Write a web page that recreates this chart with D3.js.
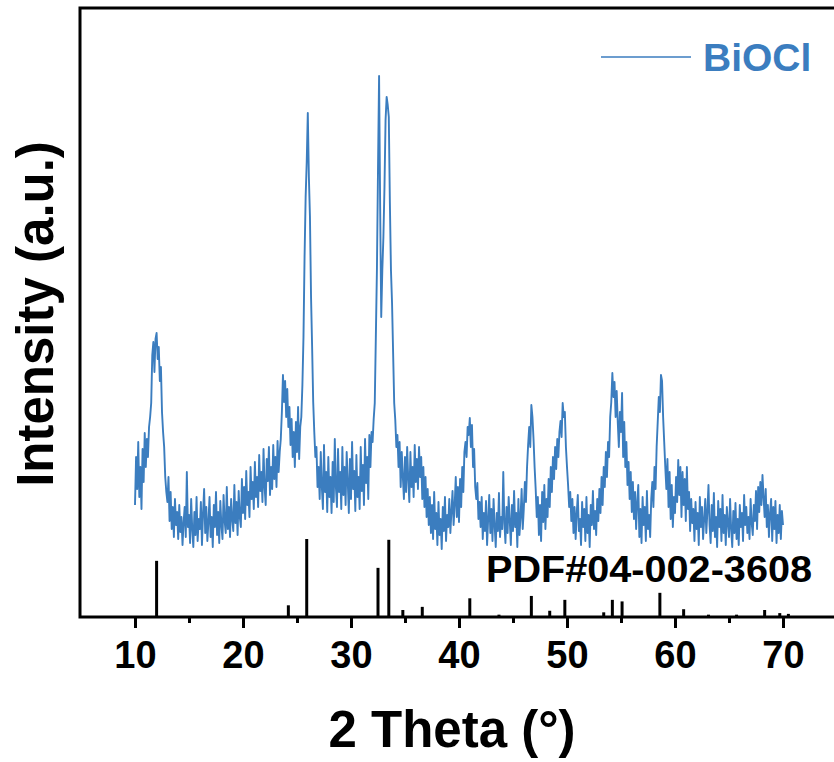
<!DOCTYPE html>
<html>
<head>
<meta charset="utf-8">
<script src="https://cdn.jsdelivr.net/npm/d3@7"></script>
<style>
  body { margin: 0; background: #fff; }
  svg { display: block; font-family: "Liberation Sans", Arial, sans-serif; font-weight: bold; }
</style>
</head>
<body>
<svg width="834" height="762"></svg>
<script>
// 2θ sampling grid of the measured pattern
const THETA_START = 10, THETA_STEP = 0.1;

// Measured BiOCl intensities (a.u.), one row per degree, 10.0° .. 70.0°
const intensity = [
  112, 160, 128, 175, 120, 150, 108, 168, 135, 184,
  150, 178, 160, 190, 200, 214, 262, 275, 245, 278,
  284, 258, 270, 236, 250, 205, 185, 170, 140, 125,
  115, 140, 96, 125, 88, 110, 80, 118, 92, 105,
  78, 112, 85, 100, 72, 95, 110, 80, 145, 90,
  102, 74, 118, 88, 70, 105, 82, 120, 76, 98,
  88, 115, 72, 104, 128, 84, 110, 76, 95, 120,
  80, 100, 70, 112, 90, 125, 82, 105, 74, 116,
  92, 78, 122, 96, 84, 130, 88, 110, 80, 118,
  98, 86, 132, 94, 115, 82, 126, 100, 90, 138,
  104, 130, 98, 146, 112, 125, 100, 150, 118, 135,
  108, 155, 120, 140, 110, 162, 126, 145, 115, 168,
  130, 112, 158, 136, 170, 122, 150, 128, 172, 138,
  160, 130, 176, 145, 165, 178, 205, 242, 215, 236,
  200, 228, 190, 210, 172, 198, 160, 185, 150, 195,
  165, 210, 158, 190, 200, 232, 280, 360, 420, 455,
  504, 440, 400, 320, 270, 215, 185, 160, 170, 130,
  150, 118, 165, 130, 108, 172, 125, 145, 105, 160,
  120, 140, 104, 155, 115, 178, 130, 110, 168, 125,
  145, 108, 170, 122, 150, 112, 165, 135, 104, 158,
  118, 175, 128, 146, 106, 162, 120, 140, 108, 170,
  126, 152, 112, 178, 134, 160, 118, 182, 150, 185,
  175, 198, 214, 280, 347, 447, 541, 410, 300, 347,
  380, 430, 497, 520, 512, 500, 414, 347, 314, 264,
  214, 197, 170, 182, 150, 175, 130, 165, 140, 118,
  160, 125, 170, 138, 115, 165, 130, 150, 120, 172,
  135, 158, 128, 170, 140, 160, 118, 150, 110, 140,
  100, 128, 92, 120, 84, 112, 78, 125, 88, 104,
  72, 115, 82, 98, 68, 110, 86, 120, 76, 102,
  90, 118, 84, 106, 126, 92, 112, 140, 100, 130,
  95, 138, 110, 150, 125, 165, 175, 160, 190, 182,
  199, 170, 192, 150, 168, 130, 118, 134, 98, 115,
  90, 120, 78, 104, 86, 116, 72, 98, 122, 84,
  108, 76, 118, 92, 70, 104, 86, 124, 80, 100,
  88, 145, 94, 74, 110, 84, 120, 96, 72, 112,
  86, 126, 90, 104, 70, 118, 82, 100, 128, 88,
  108, 135, 115, 150, 172, 190, 170, 212, 200, 178,
  150, 128, 100, 120, 82, 112, 76, 125, 95, 132,
  88, 118, 100, 138, 110, 150, 125, 160, 138, 170,
  148, 178, 160, 185, 196, 180, 214, 200, 205, 170,
  150, 132, 110, 125, 96, 118, 84, 110, 78, 104,
  122, 86, 98, 72, 115, 90, 108, 76, 120, 84,
  102, 70, 112, 92, 126, 88, 106, 82, 118, 96,
  128, 104, 140, 112, 150, 130, 165, 140, 175, 160,
  200, 215, 244, 220, 235, 200, 226, 195, 170, 205,
  185, 224, 160, 195, 150, 175, 132, 155, 118, 145,
  105, 135, 98, 125, 88, 115, 132, 80, 108, 74,
  120, 92, 110, 76, 126, 88, 102, 80, 118, 135,
  110, 150, 128, 170, 195, 220, 205, 242, 236, 200,
  175, 150, 128, 158, 110, 145, 98, 132, 90, 120,
  104, 140, 115, 157, 122, 150, 100, 145, 112, 138,
  96, 150, 108, 125, 86, 118, 94, 108, 76, 115,
  88, 104, 72, 120, 90, 110, 78, 98, 118, 84,
  106, 132, 92, 74, 112, 86, 124, 80, 100, 70,
  116, 90, 108, 76, 122, 84, 102, 72, 110, 94,
  80, 118, 88, 70, 106, 84, 114, 78, 98, 72,
  112, 90, 104, 76, 122, 92, 110, 84, 100, 78,
  118, 94, 82, 112, 96, 126, 88, 130, 105, 135,
  112, 142, 120, 100, 128, 90, 112, 80, 104, 118,
  76, 110, 88, 116, 74, 102, 84, 112, 78, 106,
  92
];

// Reference card PDF#04-002-3608: positions (2θ) and relative intensities
const stickTheta =     [12.0, 24.2, 25.9, 32.5, 33.5, 34.8, 36.6, 41.0, 43.7, 46.7, 48.4, 49.8, 53.4, 54.2, 55.1, 58.6, 60.8, 63.1, 65.7, 68.3, 69.7, 70.5];
const stickIntensity = [72,   15,   100,  63,   99,   9,    13,   24,   3,    27,   8,    22,   6,    22,   20,   31,   10,   3,    3,    9,    5,    4];

const xMajorTicks = [10, 20, 30, 40, 50, 60, 70];
const xMinorTicks = [15, 25, 35, 45, 55, 65];
const seriesName = "BiOCl";
const cardName = "PDF#04-002-3608";

const
  BLUE = "#3b7dbf",
  MARGIN = {left: 81, top: 8, bottom: 617, right: 837}
;

const svg = d3.select("svg");

const x = d3.scaleLinear().domain([5, 75]).range([MARGIN.left, MARGIN.right]);
const y = d3.scaleLinear().domain([0, 609]).range([MARGIN.bottom, MARGIN.top]);
const yStick = d3.scaleLinear().domain([0, 100]).range([MARGIN.bottom, MARGIN.bottom - 78]);

const points = intensity.map((v, i) => [THETA_START + i * THETA_STEP, v]);

// Measured pattern
svg.append("path")
  .datum(points)
  .attr("fill", "none")
  .attr("stroke", BLUE)
  .attr("stroke-width", 1.9)
  .attr("stroke-linejoin", "round")
  .attr("d", d3.line().x(d => x(d[0])).y(d => y(d[1])));

// Reference sticks
svg.append("g")
  .selectAll("line")
  .data(stickTheta.map((t, i) => [t, stickIntensity[i]]))
  .enter().append("line")
    .attr("x1", d => x(d[0]))
    .attr("x2", d => x(d[0]))
    .attr("y1", yStick(0))
    .attr("y2", d => yStick(d[1]))
    .attr("stroke", "#000")
    .attr("stroke-width", 3);

// Frame (right side falls outside the picture)
svg.append("rect")
  .attr("x", MARGIN.left - 1)
  .attr("y", MARGIN.top)
  .attr("width", MARGIN.right - MARGIN.left + 1)
  .attr("height", MARGIN.bottom - MARGIN.top)
  .attr("fill", "none")
  .attr("stroke", "#000")
  .attr("stroke-width", 3);

// Bottom axis: major and minor ticks
const axisMajor = svg.append("g")
  .attr("transform", `translate(0,${MARGIN.bottom})`)
  .call(d3.axisBottom(x).tickValues(xMajorTicks).tickSize(11).tickSizeOuter(0));
axisMajor.select(".domain").remove();
axisMajor.selectAll("line").attr("stroke-width", 3);
axisMajor.selectAll("text")
  .attr("y", 51)
  .attr("dy", null)
  .attr("fill", "#000")
  .style("font-size", "38px")
  .style("font-family", "'Liberation Sans', Arial, sans-serif")
  .style("font-weight", "bold");

const axisMinor = svg.append("g")
  .attr("transform", `translate(0,${MARGIN.bottom})`)
  .call(d3.axisBottom(x).tickValues(xMinorTicks).tickSize(6).tickSizeOuter(0).tickFormat(""));
axisMinor.select(".domain").remove();
axisMinor.selectAll("line").attr("stroke-width", 3);

// Axis titles
svg.append("text")
  .attr("x", 452)
  .attr("y", 747)
  .attr("text-anchor", "middle")
  .style("font-size", "51px")
  .text("2 Theta (°)");

svg.append("text")
  .attr("transform", "translate(53,314) rotate(-90)")
  .attr("text-anchor", "middle")
  .style("font-size", "51px")
  .text("Intensity (a.u.)");

// Legend
svg.append("line")
  .attr("x1", 601).attr("x2", 691)
  .attr("y1", 57).attr("y2", 57)
  .attr("stroke", BLUE)
  .attr("stroke-width", 1.5);
svg.append("text")
  .attr("x", 703)
  .attr("y", 71)
  .attr("fill", BLUE)
  .style("font-size", "39px")
  .text(seriesName);

// Card label
svg.append("text")
  .attr("x", 486)
  .attr("y", 582)
  .attr("textLength", 326)
  .attr("lengthAdjust", "spacingAndGlyphs")
  .style("font-size", "36px")
  .text(cardName);
</script>
</body>
</html>
